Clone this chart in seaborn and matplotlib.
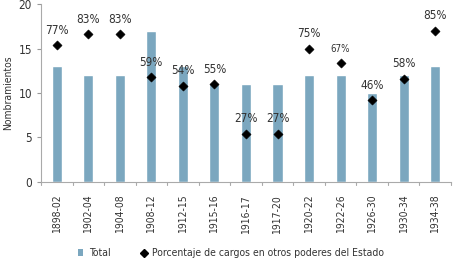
import matplotlib
matplotlib.use("Agg")
import matplotlib.pyplot as plt
import seaborn as sns
import pandas as pd
from matplotlib.lines import Line2D
from matplotlib.patches import Patch

periods = ["1898-02", "1902-04", "1904-08", "1908-12", "1912-15", "1915-16", "1916-17",
           "1917-20", "1920-22", "1922-26", "1926-30", "1930-34", "1934-38"]
total = [13, 12, 12, 17, 13, 11, 11, 11, 12, 12, 10, 12, 13]
pct = [77, 83, 83, 59, 54, 55, 27, 27, 75, 67, 46, 58, 85]
pct_labels = ["77%", "83%", "83%", "59%", "54%", "55%", "27%", "27%", "75%", "67%", "46%", "58%", "85%"]

df = pd.DataFrame({"period": periods, "total": total, "pct": pct})

sns.set_style("white")
plt.rcParams['font.family'] = ['DejaVu Sans']
plt.rcParams['font.stretch'] = 'condensed'

fig = plt.figure(figsize=(4.53, 2.61), dpi=100)
ax = fig.add_axes([0.0905, 0.304, 0.905, 0.68])

bar_color = "#7ba7bf"
text_color = "#333333"
sns.barplot(data=df, x="period", y="total", color=bar_color, width=0.32,
            saturation=1, ax=ax)
ax.set_ylim(0, 20)
ax.set_xlim(-0.5, len(periods) - 0.5)
ax.set_yticks([0, 5, 10, 15, 20])
ax.set_xlabel("")
ax.set_ylabel("Nombramientos", fontsize=7.5, color=text_color)
ax.tick_params(axis="y", labelsize=8.5, colors=text_color, length=3, width=0.8,
               left=True, color="#999999")
ax.tick_params(axis="x", labelsize=7.5, colors=text_color, rotation=90, length=0, pad=9.5)
for s in ["top", "right"]:
    ax.spines[s].set_visible(False)
for s in ["left", "bottom"]:
    ax.spines[s].set_color("#aaaaaa")
    ax.spines[s].set_linewidth(0.8)
# separators between categories on x axis
for i in range(len(periods) + 1):
    ax.plot([i - 0.5, i - 0.5], [0, -0.35], color="#aaaaaa", lw=0.8, clip_on=False)

ax2 = ax.twinx()
sns.scatterplot(data=df, x="period", y="pct", marker="D", color="black", s=22,
                edgecolor="black", ax=ax2, zorder=5)
ax2.set_ylim(0, 100)
ax2.axis("off")
for i, (v, lab) in enumerate(zip(pct, pct_labels)):
    fs = 7 if lab == "67%" else 8.5
    ax2.annotate(lab, (i, v), xytext=(0, 6), textcoords="offset points",
                 ha="center", va="bottom", fontsize=fs, color=text_color)

handles = [Patch(facecolor=bar_color, edgecolor="none"),
           Line2D([], [], marker="D", color="black", linestyle="none", markersize=4.5)]
fig.legend(handles, ["Total", "Porcentaje de cargos en otros poderes del Estado"],
           loc="center", bbox_to_anchor=(0.51, 0.03), ncol=2, frameon=False,
           fontsize=7.5, handlelength=0.5, handletextpad=0.5, columnspacing=3.0,
           labelcolor=text_color)

fig.savefig("out.png", dpi=100)
